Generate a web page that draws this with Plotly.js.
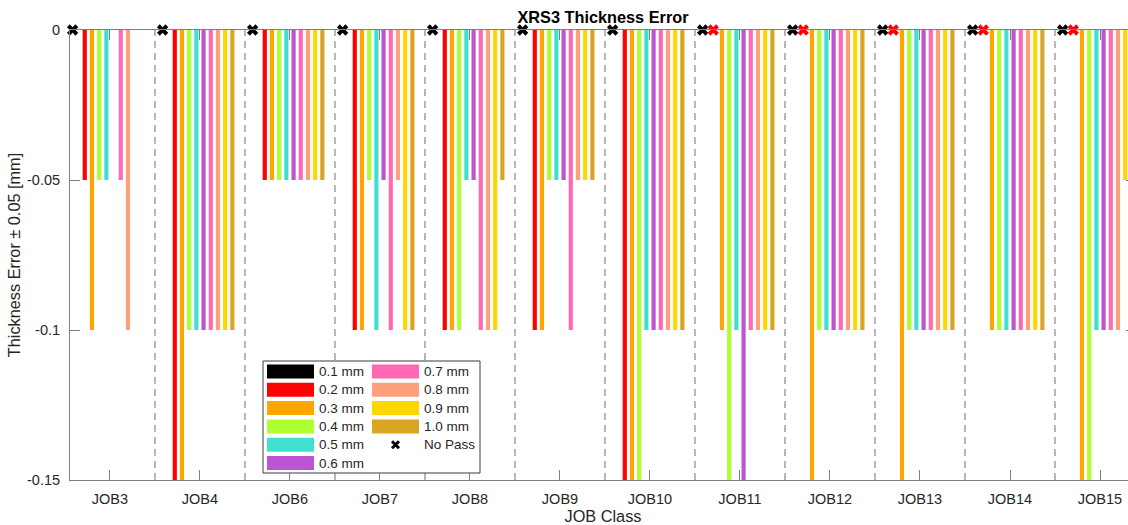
<!DOCTYPE html>
<html>
<head>
<meta charset="utf-8">
<script src="https://cdn.plot.ly/plotly-3.0.1.min.js"></script>
<style>
  html, body { margin: 0; padding: 0; background: #ffffff; overflow: hidden; }
  #chart { width: 1140px; height: 525px; }
</style>
</head>
<body>
<div id="chart"></div>
<script>
// Job classes along the x axis
const categories = ['JOB3', 'JOB4', 'JOB6', 'JOB7', 'JOB8', 'JOB9',
                    'JOB10', 'JOB11', 'JOB12', 'JOB13', 'JOB14', 'JOB15'];

// Nominal thickness series
const sizeNames = ['0.1 mm', '0.2 mm', '0.3 mm', '0.4 mm', '0.5 mm',
                   '0.6 mm', '0.7 mm', '0.8 mm', '0.9 mm', '1.0 mm'];
const sizeColors = ['#000000', '#FF0000', '#FFA500', '#ADFF2F', '#40E0D0',
                    '#BA55D3', '#FF69B4', '#FFA07A', '#FFD700', '#DAA520'];

// Thickness error [mm] per job class, one array per nominal thickness
const err01 = [0, 0, 0, 0, 0, 0, 0, 0, 0, 0, 0, 0];
const err02 = [-0.05, -0.15, -0.05, -0.1, -0.1, -0.1, -0.15, 0, 0, 0, 0, 0];
const err03 = [-0.1, -0.15, -0.05, -0.1, -0.1, -0.1, -0.15, -0.1, -0.15, -0.15, -0.1, -0.15];
const err04 = [-0.05, -0.1, -0.05, -0.05, -0.1, -0.05, -0.15, -0.15, -0.1, -0.1, -0.1, -0.15];
const err05 = [-0.05, -0.1, -0.05, -0.1, -0.05, -0.05, -0.1, -0.1, -0.1, -0.1, -0.1, -0.1];
const err06 = [0, -0.1, -0.05, -0.05, -0.05, -0.05, -0.1, -0.15, -0.1, -0.1, -0.1, -0.1];
const err07 = [-0.05, -0.1, -0.05, -0.1, -0.1, -0.1, -0.1, -0.1, -0.1, -0.1, -0.1, -0.1];
const err08 = [-0.1, -0.1, -0.05, -0.05, -0.1, -0.05, -0.1, -0.1, -0.1, -0.1, -0.1, -0.1];
const err09 = [0, -0.1, -0.05, -0.1, -0.1, -0.05, -0.1, -0.1, -0.1, -0.1, -0.1, -0.05];
const err10 = [0, -0.1, -0.05, -0.1, -0.05, -0.05, -0.1, -0.1, -0.1, -0.1, -0.1, -0.1];
const errors = [err01, err02, err03, err04, err05, err06, err07, err08, err09, err10];

// Runs that did not pass (1 = no pass) for 0.1 mm and 0.2 mm
const noPass01 = [1, 1, 1, 1, 1, 1, 1, 1, 1, 1, 1, 1];
const noPass02 = [0, 0, 0, 0, 0, 0, 0, 1, 1, 1, 1, 1];

// Y tick labels
const yTickVals = [0, -0.05, -0.1, -0.15];
const yTickText = ['0', '-0.05', '-0.1', '-0.15'];

// ---- drawing ----
const W = 1140, H = 525;
const M = { l: 70, r: 4, t: 30, b: 45 };
const plotW = W - M.l - M.r, plotH = H - M.t - M.b;
const xRange = [-0.444, 11.4];
const textColor = '#262626';
const axisColor = '#808080';
const fontFam = 'Arial, "Liberation Sans", Helvetica, sans-serif';

const idx = categories.map((_, i) => i);

const traces = errors.map((vals, k) => ({
  type: 'bar',
  name: sizeNames[k],
  x: idx,
  y: vals,
  customdata: categories,
  marker: { color: sizeColors[k], line: { width: 0 } },
  showlegend: false,
  hovertemplate: '%{customdata}<br>' + sizeNames[k] + ': %{y}<extra></extra>'
}));

// "No Pass" markers sit on the zero line next to their series slot
function noPassTrace(flags, offset, color, label) {
  const xs = [], ys = [];
  flags.forEach((f, i) => { if (f) { xs.push(i + offset); ys.push(0); } });
  return {
    type: 'scatter', mode: 'markers', name: label,
    x: xs, y: ys, cliponaxis: false, showlegend: false,
    marker: { symbol: 'x', size: 10, color: color, line: { width: 0 } },
    hoverinfo: 'skip'
  };
}
traces.push(noPassTrace(noPass01, -0.415, '#000000', 'No Pass ' + sizeNames[0]));
traces.push(noPassTrace(noPass02, -0.297, '#FF0000', 'No Pass ' + sizeNames[1]));

// pixel helpers for paper-anchored decorations
const px = v => (v - M.l) / plotW;
const py = v => (M.t + plotH - v) / plotH;

const shapes = [];
// dashed separators between job classes
for (let i = 0; i < categories.length - 1; i++) {
  shapes.push({
    type: 'line', layer: 'below', xref: 'x', yref: 'paper',
    x0: i + 0.5, x1: i + 0.5, y0: 0, y1: 1,
    line: { color: '#707070', width: 1, dash: '7px,5px' }
  });
}

// legend box, two columns of swatches
const legBox = { x0: 263, x1: 480, y0: 361, y1: 473 };
shapes.push({
  type: 'rect', layer: 'above', xref: 'paper', yref: 'paper',
  x0: px(legBox.x0), x1: px(legBox.x1), y0: py(legBox.y1), y1: py(legBox.y0),
  fillcolor: '#ffffff', line: { color: '#3a3a3a', width: 1 }
});
const annotations = [];
const colX = [267, 372];
const rowY0 = 371.5, rowStep = 18.3, swW = 47, swH = 14;
const legItems = sizeNames.map((n, k) => ({ name: n, color: sizeColors[k] }));
legItems.push({ name: 'No Pass', marker: true });
legItems.forEach((it, j) => {
  const col = j < 6 ? 0 : 1;
  const row = j < 6 ? j : j - 6;
  const cy = rowY0 + row * rowStep;
  const sx = colX[col];
  if (it.marker) {
    shapes.push({
      type: 'path', layer: 'above', xref: 'paper', yref: 'paper',
      xsizemode: 'pixel', ysizemode: 'pixel',
      xanchor: px(sx + swW / 2), yanchor: py(cy),
      path: 'M-3.5,-3.5L3.5,3.5M-3.5,3.5L3.5,-3.5',
      line: { color: '#000000', width: 3 }
    });
  } else {
    shapes.push({
      type: 'rect', layer: 'above', xref: 'paper', yref: 'paper',
      x0: px(sx), x1: px(sx + swW), y0: py(cy + swH / 2), y1: py(cy - swH / 2),
      fillcolor: it.color, line: { width: 0 }
    });
  }
  annotations.push({
    xref: 'paper', yref: 'paper', x: px(sx + swW + 3), y: py(cy),
    xanchor: 'left', yanchor: 'middle', showarrow: false,
    text: it.name, font: { family: fontFam, size: 13.5, color: textColor }
  });
});

const layout = {
  width: W, height: H,
  margin: M,
  paper_bgcolor: '#ffffff', plot_bgcolor: '#ffffff',
  font: { family: fontFam, color: textColor },
  barmode: 'group', bargap: 0.2, bargroupgap: 0.42,
  showlegend: false,
  title: {
    text: 'XRS3 Thickness Error',
    font: { family: fontFam, size: 16.3, color: '#000000', weight: 'bold' },
    x: 0.5, xref: 'paper', y: 1 - 17 / H, yref: 'container', yanchor: 'middle'
  },
  xaxis: {
    range: xRange, tickvals: idx, ticktext: categories,
    ticks: 'inside', ticklen: 10, tickwidth: 1, tickcolor: axisColor,
    showline: true, linecolor: axisColor, linewidth: 1, mirror: 'ticks',
    showgrid: false, zeroline: false, ticklabelstandoff: 6,
    tickfont: { family: fontFam, size: 14.5, color: textColor },
    title: { text: 'JOB Class', standoff: 19,
             font: { family: fontFam, size: 16.3, color: textColor } },
    automargin: false
  },
  yaxis: {
    range: [-0.15, 0], tickvals: yTickVals, ticktext: yTickText,
    ticks: 'inside', ticklen: 10, tickwidth: 1, tickcolor: axisColor,
    showline: true, linecolor: axisColor, linewidth: 1, mirror: 'ticks',
    showgrid: false, zeroline: false, ticklabelstandoff: 6,
    tickfont: { family: fontFam, size: 14.5, color: textColor },
    title: { text: 'Thickness Error \u00B1 0.05 [mm]', standoff: 2,
             font: { family: fontFam, size: 16.3, color: textColor } },
    automargin: false
  },
  shapes: shapes,
  annotations: annotations
};

Plotly.newPlot('chart', traces, layout, { displayModeBar: false, responsive: false });
</script>
</body>
</html>
